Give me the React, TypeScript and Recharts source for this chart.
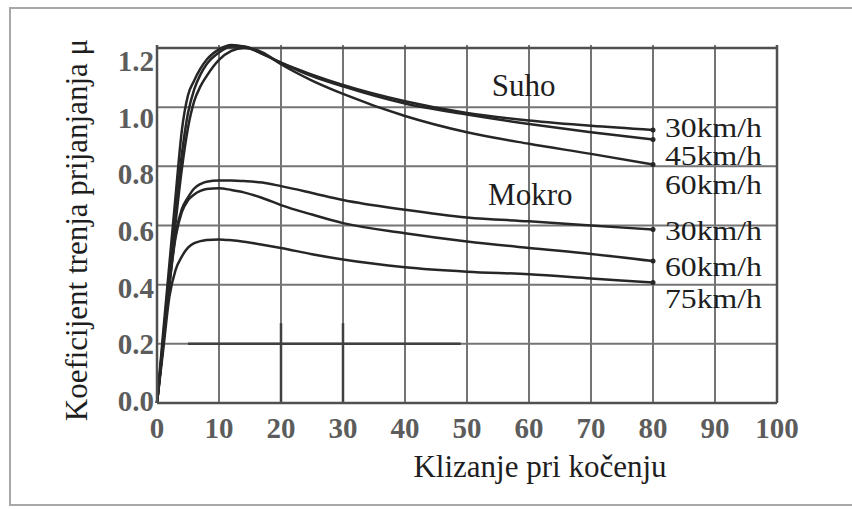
import React from 'react';
import { LineChart, Line, XAxis, YAxis, CartesianGrid, ReferenceLine, ReferenceDot } from 'recharts';

// ---- data ----
const slip = [0, 1, 2, 3, 4, 5, 6, 7, 8, 10, 12, 14, 17, 20, 25, 30, 40, 50, 60, 70, 80];
const dry30 = [0, 0.24, 0.47, 0.7, 0.92, 1.04, 1.09, 1.13, 1.16, 1.195, 1.21, 1.205, 1.18, 1.15, 1.11, 1.075, 1.02, 0.98, 0.955, 0.937, 0.923];
const dry45 = [0, 0.22, 0.44, 0.65, 0.84, 0.98, 1.06, 1.11, 1.145, 1.185, 1.205, 1.205, 1.18, 1.15, 1.105, 1.07, 1.012, 0.975, 0.943, 0.915, 0.891];
const dry60 = [0, 0.2, 0.41, 0.61, 0.79, 0.93, 1.02, 1.07, 1.105, 1.16, 1.19, 1.2, 1.185, 1.145, 1.09, 1.045, 0.97, 0.915, 0.876, 0.842, 0.806];
const wet30 = [0, 0.2, 0.4, 0.57, 0.655, 0.695, 0.725, 0.74, 0.748, 0.752, 0.752, 0.75, 0.745, 0.733, 0.71, 0.686, 0.653, 0.627, 0.614, 0.6, 0.586];
const wet60 = [0, 0.2, 0.4, 0.56, 0.645, 0.685, 0.705, 0.717, 0.723, 0.726, 0.72, 0.712, 0.693, 0.669, 0.637, 0.608, 0.574, 0.546, 0.524, 0.504, 0.48];
const wet75 = [0, 0.18, 0.36, 0.45, 0.495, 0.525, 0.54, 0.547, 0.551, 0.553, 0.55, 0.545, 0.535, 0.524, 0.503, 0.485, 0.459, 0.444, 0.435, 0.421, 0.407];

const seriesKeys = ['dry30', 'dry45', 'dry60', 'wet30', 'wet60', 'wet75'];
const seriesValues = [dry30, dry45, dry60, wet30, wet60, wet75];
const seriesLabels = ['30km/h', '45km/h', '60km/h', '30km/h', '60km/h', '75km/h'];
const groupLabels = ['Suho', 'Mokro'];
const groupAnchors = [{ x: 54, y: 1.039 }, { x: 53.4, y: 0.67 }];
const xTicks = [0, 10, 20, 30, 40, 50, 60, 70, 80, 90, 100];
const yTicks = [0, 0.2, 0.4, 0.6, 0.8, 1.0, 1.2];
const xTitle = 'Klizanje pri kočenju';
const yTitle = 'Koeficijent trenja prijanjanja μ';

const data = slip.map((s, i) => {
  const row: any = { s };
  seriesKeys.forEach((k, j) => { row[k] = seriesValues[j][i]; });
  return row;
});

// ---- styles ----
const SERIF = '"Liberation Serif", "Times New Roman", serif';
const labelDy = [7, 26, 29, 10, 15, 25];
const lineColor = '#262626';
const gridColor = '#747474';
const borderColor = '#505050';

const makeEndDot = (idx: number) => (props: any) => {
  const { cx, cy, index } = props;
  if (index !== data.length - 1 || cx == null) return <g key={`d-${idx}-${index}`} />;
  return (
    <g key={`d-${idx}-${index}`}>
      <circle cx={cx} cy={cy} r={2.5} fill={lineColor} />
      <text x={cx + 12} y={cy + labelDy[idx]} fontFamily={SERIF} fontSize={27} fill="#1e1e1e"
        textLength={97} lengthAdjust="spacingAndGlyphs">
        {seriesLabels[idx]}
      </text>
    </g>
  );
};

const XTick = (props: any) => {
  const { x, y, payload } = props;
  return (
    <text x={x} y={y + 35} textAnchor="middle" fontFamily={SERIF} fontWeight="bold" fontSize={29} fill="#5c5c5c">
      {payload.value}
    </text>
  );
};

const YTick = (props: any) => {
  const { x, y, payload } = props;
  const v = Number(payload.value);
  return (
    <text x={x - 3} y={y + 8 + (15 * v) / 1.2} textAnchor="end" fontFamily={SERIF} fontWeight="bold" fontSize={29} fill="#5c5c5c">
      {v.toFixed(1)}
    </text>
  );
};

const GroupLabel = (text: string) => (props: any) => {
  const vb = props.viewBox || {};
  const x = vb.cx != null ? vb.cx : vb.x + (vb.width || 0) / 2;
  const y = vb.cy != null ? vb.cy : vb.y + (vb.height || 0) / 2;
  return (
    <text x={x} y={y} fontFamily={SERIF} fontSize={31} fill="#1e1e1e">
      {text}
    </text>
  );
};

const YTitle = (props: any) => {
  const vb = props.viewBox;
  const cx = vb.x - 21;
  const cy = vb.y + vb.height / 2 + 6;
  return (
    <text x={cx} y={cy} transform={`rotate(-90, ${cx}, ${cy})`} textAnchor="middle" dominantBaseline="central"
      fontFamily={SERIF} fontSize={31} fill="#1e1e1e">
      {yTitle}
    </text>
  );
};

const XTitle = (props: any) => {
  const vb = props.viewBox;
  const cx = vb.x + vb.width / 2 + 73;
  return (
    <text x={cx} y={477} textAnchor="middle" fontFamily={SERIF} fontSize={31} fill="#1e1e1e">
      {xTitle}
    </text>
  );
};

export default function App() {
  return (
    <div style={{ position: 'absolute', left: 0, top: 0, width: 852, height: 509, overflow: 'hidden', background: '#fff' }}>
      <div style={{ position: 'absolute', left: 9, top: 7, width: 900, height: 499, border: '2px solid #a8a8a8', boxSizing: 'border-box' }} />
      <div style={{ position: 'absolute', left: 0, top: 0 }}>
        <LineChart width={852} height={509} data={data} margin={{ top: 45, right: 75, bottom: 66, left: 97 }}>
          <CartesianGrid stroke={gridColor} strokeWidth={2} horizontalValues={yTicks} verticalValues={xTicks} />
          <XAxis dataKey="s" type="number" domain={[0, 100]} ticks={xTicks} height={40} tickSize={0} tickMargin={0}
            axisLine={{ stroke: borderColor, strokeWidth: 2.5 }} tickLine={false} tick={<XTick />} interval={0}
            label={{ content: <XTitle /> } as any} />
          <YAxis type="number" domain={[0, 1.2]} ticks={yTicks} width={60} tickSize={0} tickMargin={0}
            axisLine={{ stroke: borderColor, strokeWidth: 2.5 }} tickLine={false} tick={<YTick />} interval={0}
            label={{ content: <YTitle /> } as any} />
          <ReferenceLine y={1.2} stroke={borderColor} strokeWidth={2.5} />
          <ReferenceLine x={100} stroke={borderColor} strokeWidth={2.5} />
          <ReferenceLine segment={[{ x: 5, y: 0.2 }, { x: 49, y: 0.2 }]} stroke="#404040" strokeWidth={2.5} />
          <ReferenceLine segment={[{ x: 20, y: 0 }, { x: 20, y: 0.27 }]} stroke="#404040" strokeWidth={2.5} />
          <ReferenceLine segment={[{ x: 30, y: 0 }, { x: 30, y: 0.27 }]} stroke="#404040" strokeWidth={2.5} />
          {groupLabels.map((g, i) => (
            <ReferenceDot key={g} x={groupAnchors[i].x} y={groupAnchors[i].y} r={0} fill="none" stroke="none"
              label={{ content: GroupLabel(g) } as any} />
          ))}
          {seriesKeys.map((k, i) => (
            <Line key={k} dataKey={k} type="monotone" stroke={lineColor} strokeWidth={2.5}
              dot={makeEndDot(i)} activeDot={false} isAnimationActive={false} />
          ))}
        </LineChart>
      </div>
    </div>
  );
}
